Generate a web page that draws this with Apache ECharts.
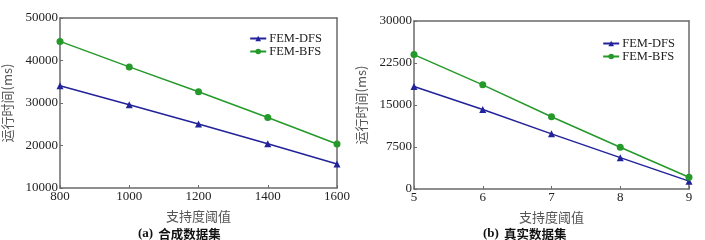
<!DOCTYPE html>
<html>
<head>
<meta charset="utf-8">
<script src="https://cdn.jsdelivr.net/npm/echarts@6/dist/echarts.min.js"></script>
<style>
    html, body { margin: 0; padding: 0; background: #fff; }
    #main { width: 705px; height: 240px; }
</style>
</head>
<body>
<div id="main"></div>
<script>
    // (a) 合成数据集
    var xA = ['800', '1000', '1200', '1400', '1600'];
    var dfsA = [34050, 29600, 25050, 20400, 15650];
    var bfsA = [44500, 38500, 32650, 26600, 20350];
    // (b) 真实数据集
    var xB = ['5', '6', '7', '8', '9'];
    var dfsB = [18300, 14200, 9850, 5600, 1400];
    var bfsB = [24000, 18600, 12900, 7450, 2100];

    var names = ['FEM-DFS', 'FEM-BFS'];
    var blue = '#22229a';
    var green = '#25992a';
    var serif = '"Liberation Serif", "Noto Sans CJK SC", serif';
    var cjk = '"Noto Sans CJK SC", "Liberation Serif", serif';
    var frame = '#6a6a6a';

    function xAxisOf(idx, data) {
        return {
            type: 'category', gridIndex: idx, data: data, boundaryGap: false,
            name: '支持度阈值', nameLocation: 'middle', nameGap: 22,
            nameTextStyle: { fontFamily: cjk, fontSize: 13, color: '#555' },
            axisLine: { lineStyle: { color: frame, width: 1.5 } },
            axisTick: { inside: true, length: 3, lineStyle: { color: frame } },
            axisLabel: { margin: 2, fontFamily: serif, fontSize: 13, color: '#222' },
            splitLine: { show: false }
        };
    }
    function yAxisOf(idx, min, max, step) {
        return {
            type: 'value', gridIndex: idx, min: min, max: max, interval: step,
            name: '运行时间(ms)', nameLocation: 'middle', nameGap: 46, nameRotate: 90,
            nameTextStyle: { fontFamily: cjk, fontSize: 13, color: '#555' },
            axisLine: { show: true, lineStyle: { color: frame, width: 1.5 } },
            axisTick: { show: true, inside: true, length: 3, lineStyle: { color: frame } },
            axisLabel: { margin: 2, fontFamily: serif, fontSize: 13, color: '#222',
                         formatter: function (v) { return String(v); } },
            splitLine: { show: false }
        };
    }
    function frameAxes(idx) {
        return [
            { type: 'value', gridIndex: idx, position: 'top', show: true,
              axisLine: { show: true, onZero: false, lineStyle: { color: frame, width: 1.5 } },
              axisTick: { show: false }, axisLabel: { show: false }, splitLine: { show: false } },
            { type: 'value', gridIndex: idx, position: 'right', show: true,
              axisLine: { show: true, onZero: false, lineStyle: { color: frame, width: 1.5 } },
              axisTick: { show: false }, axisLabel: { show: false }, splitLine: { show: false } }
        ];
    }
    function lineSeries(name, xi, yi, data, color, symbol, size) {
        return {
            name: name, type: 'line', xAxisIndex: xi, yAxisIndex: yi, data: data,
            symbol: symbol, symbolSize: size,
            lineStyle: { color: color, width: 1.5 },
            itemStyle: { color: color }
        };
    }
    function legendOf(right, top) {
        return {
            data: names, right: right, top: top, orient: 'vertical',
            itemWidth: 16, itemHeight: 7, itemGap: 0,
            textStyle: { fontFamily: serif, fontSize: 12.5, lineHeight: 13, color: '#222', padding: [0, 0, 0, -2] }
        };
    }
    function caption(text, sub, x) {
        return {
            text: '{a|' + text + '} {b|' + sub + '}', left: x, top: 220,
            textStyle: {
                rich: {
                    a: { fontFamily: serif, fontSize: 13, fontWeight: 'bold', color: '#111' },
                    b: { fontFamily: cjk, fontSize: 12.5, fontWeight: 'bold', color: '#111' }
                }
            }
        };
    }

    var fa = frameAxes(0), fb = frameAxes(1);
    var myChart = echarts.init(document.getElementById('main'));
    var option = {
        animation: false,
        backgroundColor: '#fff',
        grid: [
            { left: 59, right: 368, top: 18, bottom: 52 },
            { left: 414, right: 16, top: 21, bottom: 51 }
        ],
        title: [caption('(a)', '合成数据集', 133), caption('(b)', '真实数据集', 478)],
        legend: [legendOf(378, 27), legendOf(25, 32)],
        xAxis: [xAxisOf(0, xA), xAxisOf(1, xB), fa[0], fb[0]],
        yAxis: [yAxisOf(0, 10000, 50000, 10000), yAxisOf(1, 0, 30000, 7500), fa[1], fb[1]],
        series: [
            lineSeries(names[0], 0, 0, dfsA, blue, 'triangle', 7),
            lineSeries(names[1], 0, 0, bfsA, green, 'circle', 7),
            lineSeries(names[0], 1, 1, dfsB, blue, 'triangle', 7),
            lineSeries(names[1], 1, 1, bfsB, green, 'circle', 7)
        ]
    };
    myChart.setOption(option);
</script>
</body>
</html>
